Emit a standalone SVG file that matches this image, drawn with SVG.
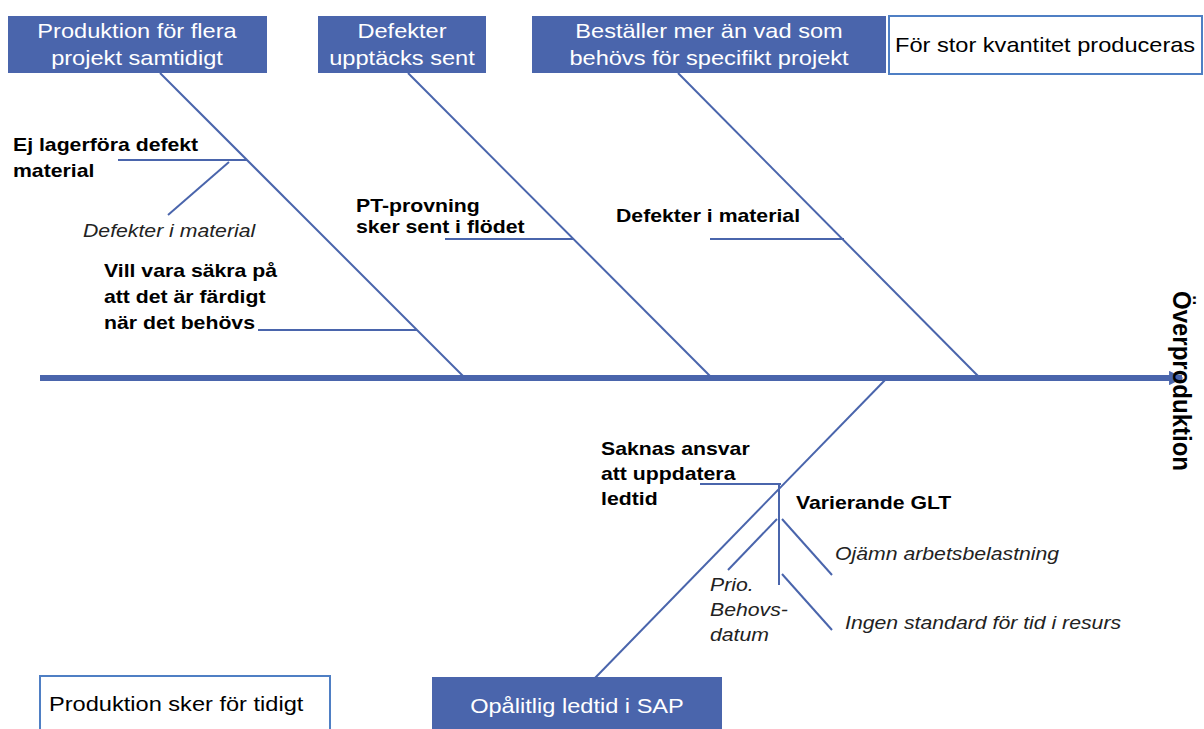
<svg xmlns="http://www.w3.org/2000/svg" width="1204" height="729" viewBox="0 0 1204 729">
  <style>
    .cat { fill: #4a65ac; }
    .cat-t { fill: #ffffff; font-family: "Liberation Sans", Arial, sans-serif; font-size: 20px; text-anchor: middle; }
    .eff { fill: #ffffff; stroke: #4f7fc4; stroke-width: 2; }
    .eff-t { fill: #000000; font-family: "Liberation Sans", Arial, sans-serif; font-size: 20px; }
    .bone { stroke: #4a65ac; stroke-width: 2; fill: none; }
    .spine { stroke: #4a65ac; stroke-width: 6; fill: none; }
    .b { fill: #000000; font-family: "Liberation Sans", Arial, sans-serif; font-size: 18px; font-weight: bold; }
    .head-t { fill: #000000; font-family: "Liberation Sans", Arial, sans-serif; font-size: 24px; font-weight: bold; }
    .i { fill: #222222; font-family: "Liberation Sans", Arial, sans-serif; font-size: 18px; font-style: italic; }
  </style>
  <defs>
    <marker id="head" viewBox="0 0 10 10" refX="9" refY="5" markerWidth="3" markerHeight="2.4" orient="auto" markerUnits="strokeWidth">
      <path d="M0,0 L10,5 L0,10 z" fill="#4a65ac"/>
    </marker>
  </defs>
  <rect width="1204" height="729" fill="#ffffff"/>

  <!-- connectors: spine, main bones and sub-bones -->
  <g id="connectors">
    <line class="spine" x1="40" y1="378" x2="1182" y2="378" marker-end="url(#head)"/>
    <!-- bone 1 -->
    <line class="bone" x1="160" y1="73" x2="465" y2="378"/>
    <line class="bone" x1="118" y1="160" x2="247" y2="160"/>
    <line class="bone" x1="229" y1="162" x2="168" y2="215"/>
    <line class="bone" x1="258" y1="330" x2="417" y2="330"/>
    <!-- bone 2 -->
    <line class="bone" x1="408" y1="73" x2="712" y2="378"/>
    <line class="bone" x1="445" y1="239" x2="574" y2="239"/>
    <!-- bone 3 -->
    <line class="bone" x1="678" y1="73" x2="980" y2="378"/>
    <line class="bone" x1="710" y1="239" x2="844" y2="239"/>
    <!-- lower bone -->
    <line class="bone" x1="887" y1="378" x2="595" y2="678"/>
    <line class="bone" x1="700" y1="484" x2="781" y2="484"/>
    <line class="bone" x1="779" y1="484" x2="779" y2="585"/>
    <line class="bone" x1="777" y1="519" x2="728" y2="570"/>
    <line class="bone" x1="782" y1="519" x2="832" y2="575"/>
    <line class="bone" x1="782" y1="574" x2="832" y2="630"/>
  </g>

  <!-- all lettering is set slightly wide: translate(x y) scale(1.18 1) -->
  <g id="cat-produktion-flera">
    <rect class="cat" x="8" y="16" width="259" height="57"/>
    <text class="cat-t" transform="translate(137 38) scale(1.18 1)">Produktion för flera</text>
    <text class="cat-t" transform="translate(137 65) scale(1.18 1)">projekt samtidigt</text>
  </g>
  <g id="cat-defekter-sent">
    <rect class="cat" x="318" y="16" width="168" height="57"/>
    <text class="cat-t" transform="translate(402 38) scale(1.18 1)">Defekter</text>
    <text class="cat-t" transform="translate(402 65) scale(1.18 1)">upptäcks sent</text>
  </g>
  <g id="cat-bestaller">
    <rect class="cat" x="532" y="16" width="354" height="57"/>
    <text class="cat-t" transform="translate(709 38) scale(1.18 1)">Beställer mer än vad som</text>
    <text class="cat-t" transform="translate(709 65) scale(1.18 1)">behövs för specifikt projekt</text>
  </g>
  <g id="eff-stor-kvantitet">
    <rect class="eff" x="889" y="16" width="313" height="58"/>
    <text class="eff-t" transform="translate(895 52) scale(1.18 1)">För stor kvantitet produceras</text>
  </g>
  <g id="eff-for-tidigt">
    <rect class="eff" x="40" y="676" width="290" height="62"/>
    <text class="eff-t" transform="translate(49 711) scale(1.18 1)">Produktion sker för tidigt</text>
  </g>
  <g id="cat-opalitlig">
    <rect class="cat" x="432" y="677" width="290" height="61"/>
    <text class="cat-t" transform="translate(577 713) scale(1.18 1)">Opålitlig ledtid i SAP</text>
  </g>

  <g id="head-overproduktion">
    <text class="head-t" transform="translate(1173 291) scale(1.1 1) rotate(90)">Överproduktion</text>
  </g>

  <g id="cause-ej-lagerfora">
    <text class="b" transform="translate(13 151) scale(1.18 1)">Ej lagerföra defekt</text>
    <text class="b" transform="translate(13 177) scale(1.18 1)">material</text>
  </g>
  <g id="cause-defekter-material-1">
    <text class="i" transform="translate(83 237) scale(1.18 1)">Defekter i material</text>
  </g>
  <g id="cause-vill-vara">
    <text class="b" transform="translate(104 277) scale(1.18 1)">Vill vara säkra på</text>
    <text class="b" transform="translate(104 303) scale(1.18 1)">att det är färdigt</text>
    <text class="b" transform="translate(104 329) scale(1.18 1)">när det behövs</text>
  </g>
  <g id="cause-pt-provning">
    <text class="b" transform="translate(356 212) scale(1.18 1)">PT-provning</text>
    <text class="b" transform="translate(356 233) scale(1.18 1)">sker sent i flödet</text>
  </g>
  <g id="cause-defekter-material-2">
    <text class="b" transform="translate(616 222) scale(1.18 1)">Defekter i material</text>
  </g>
  <g id="cause-saknas-ansvar">
    <text class="b" transform="translate(601 455) scale(1.18 1)">Saknas ansvar</text>
    <text class="b" transform="translate(601 480) scale(1.18 1)">att uppdatera</text>
    <text class="b" transform="translate(601 505) scale(1.18 1)">ledtid</text>
  </g>
  <g id="cause-varierande-glt">
    <text class="b" transform="translate(796 509) scale(1.18 1)">Varierande GLT</text>
  </g>
  <g id="cause-ojamn">
    <text class="i" transform="translate(835 560) scale(1.18 1)">Ojämn arbetsbelastning</text>
  </g>
  <g id="cause-prio">
    <text class="i" transform="translate(710 591) scale(1.18 1)">Prio.</text>
    <text class="i" transform="translate(710 616) scale(1.18 1)">Behovs-</text>
    <text class="i" transform="translate(710 641) scale(1.18 1)">datum</text>
  </g>
  <g id="cause-ingen-standard">
    <text class="i" transform="translate(845 629) scale(1.18 1)">Ingen standard för tid i resurs</text>
  </g>
</svg>
